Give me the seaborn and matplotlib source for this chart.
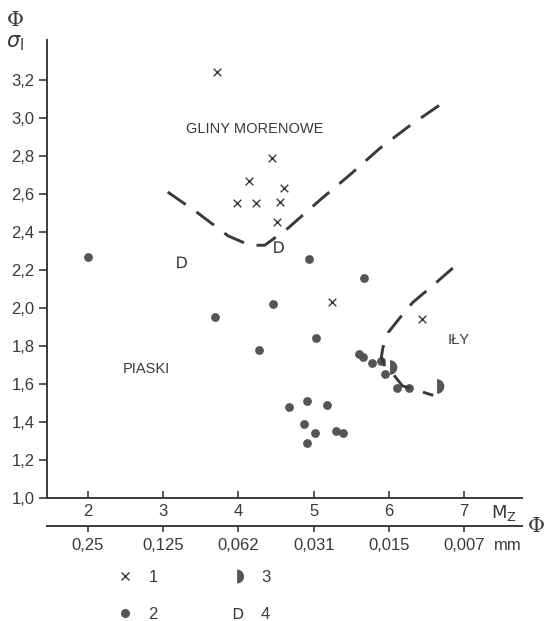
import numpy as np
import pandas as pd
import matplotlib
matplotlib.use("Agg")
import matplotlib.pyplot as plt
from matplotlib.lines import Line2D
import seaborn as sns

# ---- data ----
x1_mz = [3.72, 4.45, 4.14, 4.61, 3.98, 4.23, 4.55, 4.51, 5.24, 6.44]
x1_sig = [3.24, 2.79, 2.67, 2.63, 2.55, 2.55, 2.56, 2.45, 2.03, 1.94]

x2_mz = [2.00, 3.69, 4.94, 5.67, 4.46, 5.03, 4.27, 5.60, 5.66, 5.78, 5.90,
         5.95, 6.11, 6.27, 4.67, 4.91, 5.18, 4.87, 5.02, 5.30, 5.39, 4.91]
x2_sig = [2.27, 1.95, 2.26, 2.16, 2.02, 1.84, 1.78, 1.76, 1.74, 1.71, 1.72,
          1.65, 1.58, 1.58, 1.48, 1.51, 1.49, 1.39, 1.34, 1.35, 1.34, 1.29]

x3_mz = [6.03, 6.65]
x3_sig = [1.69, 1.59]

x4_mz = [4.54, 3.25]
x4_sig = [2.32, 2.24]

curve1_mz = [3.06, 3.46, 3.86, 4.15, 4.35, 4.66, 5.09, 5.48, 5.88, 6.28, 6.72]
curve1_sig = [2.61, 2.50, 2.38, 2.33, 2.33, 2.42, 2.57, 2.70, 2.84, 2.96, 3.08]

curve2_mz = [6.85, 6.59, 6.32, 6.15, 5.99, 5.92, 5.90, 5.95, 6.06, 6.18, 6.35, 6.59]
curve2_sig = [2.21, 2.12, 2.03, 1.95, 1.87, 1.79, 1.74, 1.69, 1.65, 1.59, 1.57, 1.54]

y_ticks = [1.0, 1.2, 1.4, 1.6, 1.8, 2.0, 2.2, 2.4, 2.6, 2.8, 3.0, 3.2]
y_labels = ["1,0", "1,2", "1,4", "1,6", "1,8", "2,0", "2,2", "2,4", "2,6", "2,8", "3,0", "3,2"]
phi_ticks = [2, 3, 4, 5, 6, 7]
phi_labels = ["2", "3", "4", "5", "6", "7"]
mm_labels = ["0,25", "0,125", "0,062", "0,031", "0,015", "0,007"]
legend_labels = ["1", "2", "3", "4"]

zone_labels = ["GLINY MORENOWE", "PIASKI", "IŁY"]
zone_mz = [4.22, 2.78, 6.93]
zone_sig = [2.94, 1.68, 1.83]

# ---- styling ----
sns.set_style("ticks")
plt.rcParams["font.family"] = ["Liberation Sans", "DejaVu Sans"]
INK = "#3a3a3a"
DOT = "#555555"
plt.rcParams["text.color"] = INK
plt.rcParams["axes.edgecolor"] = INK
plt.rcParams["xtick.color"] = INK
plt.rcParams["ytick.color"] = INK
FS = 12

fig = plt.figure(figsize=(5.45, 6.21), dpi=100)
ax = fig.add_axes([47 / 545, 1 - 498 / 621, (522 - 47) / 545, (498 - 40) / 621])

half = np.linspace(-np.pi / 2, np.pi / 2, 25)
half_disk = [(-0.2, -1.0)] + [(-0.2 + np.cos(t), np.sin(t)) for t in half] + [(-0.2, -1.0)]

df1 = pd.DataFrame({"mz": x1_mz, "sig": x1_sig})
df2 = pd.DataFrame({"mz": x2_mz, "sig": x2_sig})
df3 = pd.DataFrame({"mz": x3_mz, "sig": x3_sig})
df4 = pd.DataFrame({"mz": x4_mz, "sig": x4_sig})
dc1 = pd.DataFrame({"mz": curve1_mz, "sig": curve1_sig})
dc2 = pd.DataFrame({"mz": curve2_mz, "sig": curve2_sig})

dash = (0, (7.5, 4.5))
sns.lineplot(data=dc1, x="mz", y="sig", sort=False, estimator=None, ax=ax,
             color=INK, lw=2.1, linestyle=dash)
sns.lineplot(data=dc2, x="mz", y="sig", sort=False, estimator=None, ax=ax,
             color=INK, lw=2.1, linestyle=dash)

sns.scatterplot(data=df1, x="mz", y="sig", marker="x", s=30, color=INK,
                linewidth=1.0, ax=ax)
sns.scatterplot(data=df2, x="mz", y="sig", marker="o", s=40, color=DOT,
                edgecolor=DOT, linewidth=0, ax=ax)
sns.scatterplot(data=df3, x="mz", y="sig", marker=half_disk, s=110, color=DOT,
                edgecolor=DOT, linewidth=0, ax=ax)
sns.scatterplot(data=df4, x="mz", y="sig", marker=r"$\mathrm{D}$", s=70, color=INK,
                edgecolor="none", linewidth=0, ax=ax)

for lab, xx, yy in zip(zone_labels, zone_mz, zone_sig):
    ax.text(xx, yy, lab, ha="center", va="center", fontsize=10.5, color=INK)

ax.set_xlim(1.455, 7.77)
ax.set_ylim(1.0, 3.41)
ax.set_xlabel("")
ax.set_ylabel("")
ax.set_yticks(y_ticks)
ax.set_yticklabels(y_labels, fontsize=FS)
ax.set_xticks(phi_ticks)
ax.set_xticklabels(phi_labels, fontsize=FS)
ax.tick_params(axis="y", direction="out", length=6, width=1.2, pad=3)
ax.tick_params(axis="x", direction="in", length=5, width=1.2, pad=4)
for s in ["top", "right"]:
    ax.spines[s].set_visible(False)
for s in ["left", "bottom"]:
    ax.spines[s].set_linewidth(1.4)

# secondary scale in mm
ax2 = ax.twiny()
ax2.set_xlim(ax.get_xlim())
ax2.spines["top"].set_visible(False)
ax2.spines["right"].set_visible(False)
ax2.spines["left"].set_visible(False)
ax2.xaxis.set_ticks_position("bottom")
ax2.xaxis.set_label_position("bottom")
ax2.spines["bottom"].set_position(("outward", 20))
ax2.spines["bottom"].set_linewidth(1.4)
ax2.set_xticks(phi_ticks)
ax2.set_xticklabels(mm_labels, fontsize=FS)
ax2.tick_params(axis="x", which="both", top=False, bottom=True,
                direction="out", length=4, width=1.2, pad=5)

# axis captions
fig.text(15 / 545, 1 - 20 / 621, "Φ", fontsize=15, ha="center", va="center",
         family=["DejaVu Serif"], color=INK)
fig.text(15 / 545, 1 - 43 / 621, r"$\sigma_{\mathrm{I}}$", fontsize=15, ha="center",
         va="center", color=INK)
fig.text(504 / 545, 1 - 513 / 621, r"$\mathrm{M_Z}$", fontsize=13, ha="center",
         va="center", color=INK)
fig.text(536 / 545, 1 - 527 / 621, "Φ", fontsize=15, ha="center", va="center",
         family=["DejaVu Serif"], color=INK)
fig.text(494 / 545, 1 - 545 / 621, "mm", fontsize=FS, ha="left", va="center",
         color=INK)

# legend
handles = [
    Line2D([], [], marker="x", ls="none", color=INK, markersize=5.5, mew=1.0),
    Line2D([], [], marker="o", ls="none", color=DOT, markersize=6.5, mew=0),
    Line2D([], [], marker=half_disk, ls="none", color=DOT, markersize=10, mew=0),
    Line2D([], [], marker=r"$\mathrm{D}$", ls="none", color=INK, markersize=8, mew=0),
]
fig.legend(handles, legend_labels, ncol=2, frameon=False, loc="upper left",
           bbox_to_anchor=(115 / 545, 1 - 570 / 621), fontsize=FS,
           handlelength=1.2, handletextpad=0.8, columnspacing=4.2,
           labelspacing=1.3, labelcolor=INK, borderpad=0, borderaxespad=0)

fig.savefig("out.png", dpi=100, facecolor="white")
